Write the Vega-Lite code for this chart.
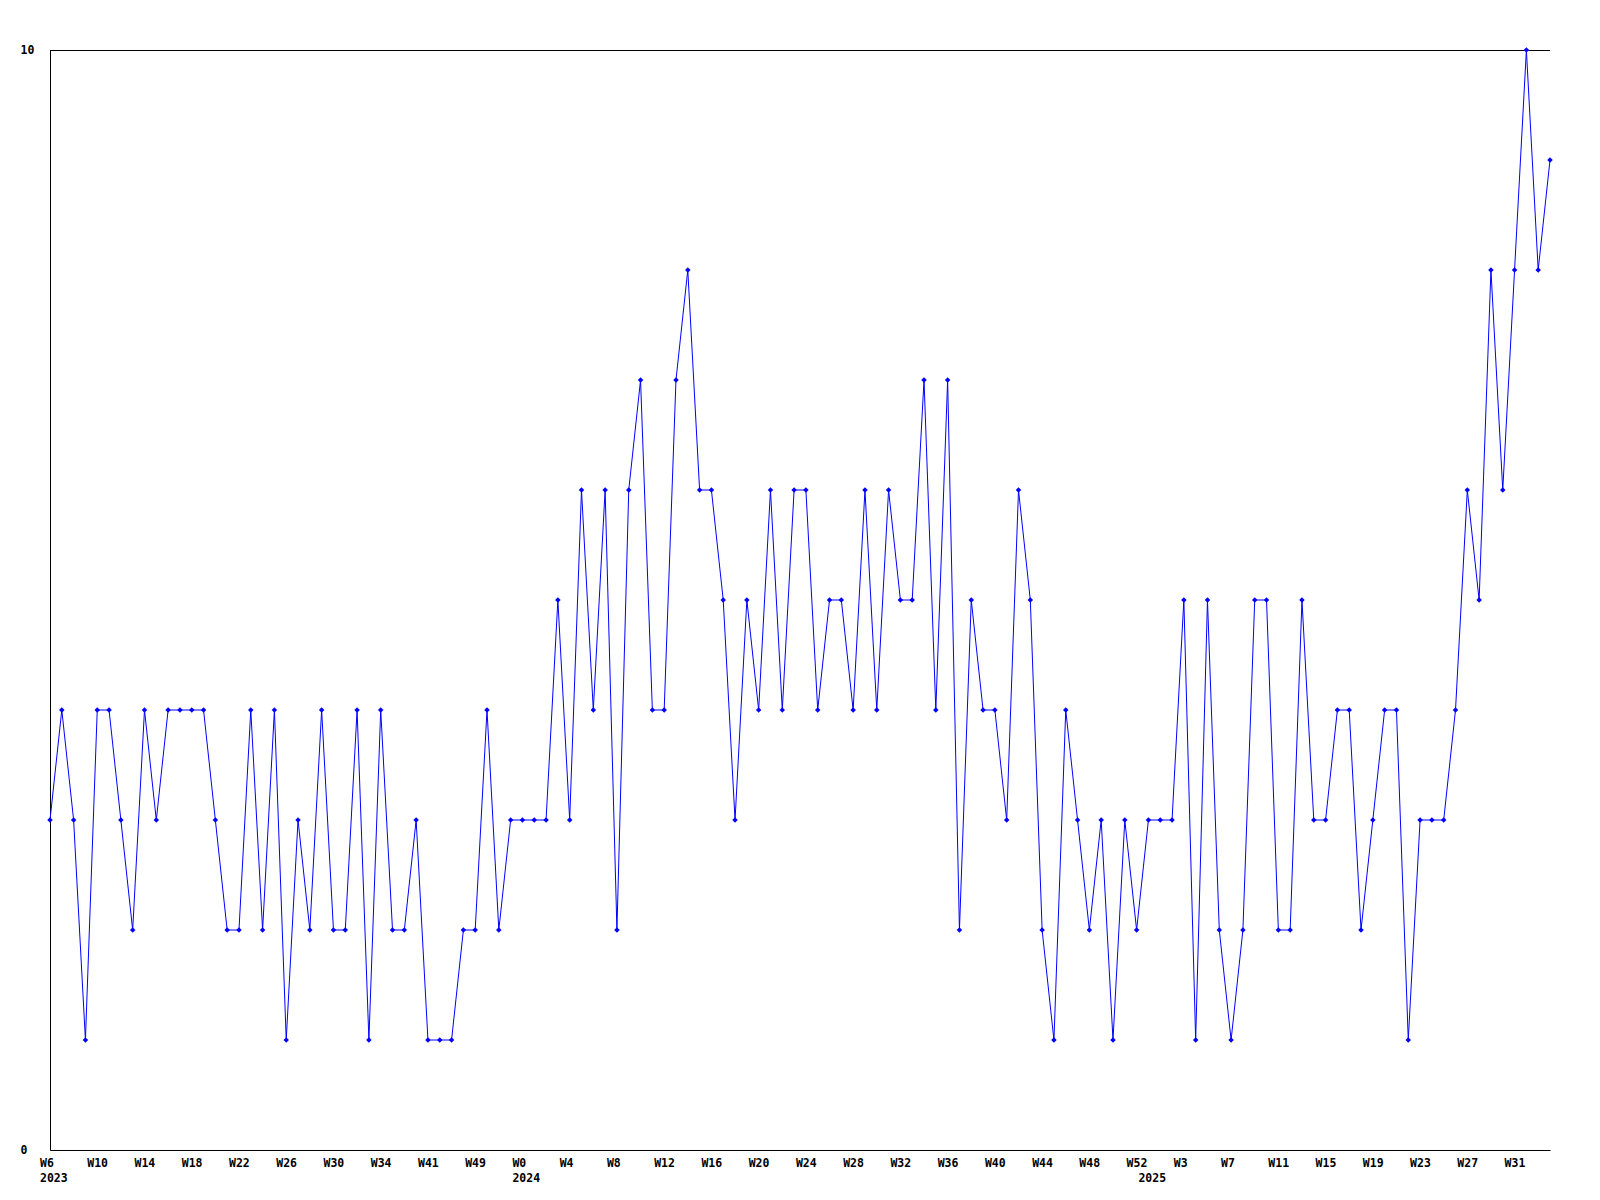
{
  "$schema": "https://vega.github.io/schema/vega-lite/v6.json",
  "autosize": {"type": "none"},
  "padding": {"left": 50, "top": 50, "right": 50, "bottom": 50},
  "width": 1500,
  "height": 1100,
  "background": "white",
  "config": {
    "view": {"stroke": null},
    "axis": {
      "labelFont": "DejaVu Sans Mono",
      "labelFontWeight": "bold",
      "labelFontSize": 11.5,
      "labelColor": "black",
      "domainColor": "black",
      "domainWidth": 1,
      "grid": false,
      "ticks": false,
      "title": null
    }
  },
  "data": {
    "values": [
      {"wk": "2023-W6", "v": 3}, {"wk": "2023-W7", "v": 4}, {"wk": "2023-W8", "v": 3}, {"wk": "2023-W9", "v": 1},
      {"wk": "2023-W10", "v": 4}, {"wk": "2023-W11", "v": 4}, {"wk": "2023-W12", "v": 3}, {"wk": "2023-W13", "v": 2},
      {"wk": "2023-W14", "v": 4}, {"wk": "2023-W15", "v": 3}, {"wk": "2023-W16", "v": 4}, {"wk": "2023-W17", "v": 4},
      {"wk": "2023-W18", "v": 4}, {"wk": "2023-W19", "v": 4}, {"wk": "2023-W20", "v": 3}, {"wk": "2023-W21", "v": 2},
      {"wk": "2023-W22", "v": 2}, {"wk": "2023-W23", "v": 4}, {"wk": "2023-W24", "v": 2}, {"wk": "2023-W25", "v": 4},
      {"wk": "2023-W26", "v": 1}, {"wk": "2023-W27", "v": 3}, {"wk": "2023-W28", "v": 2}, {"wk": "2023-W29", "v": 4},
      {"wk": "2023-W30", "v": 2}, {"wk": "2023-W31", "v": 2}, {"wk": "2023-W32", "v": 4}, {"wk": "2023-W33", "v": 1},
      {"wk": "2023-W34", "v": 4}, {"wk": "2023-W36", "v": 2}, {"wk": "2023-W38", "v": 2}, {"wk": "2023-W40", "v": 3},
      {"wk": "2023-W41", "v": 1}, {"wk": "2023-W43", "v": 1}, {"wk": "2023-W45", "v": 1}, {"wk": "2023-W47", "v": 2},
      {"wk": "2023-W49", "v": 2}, {"wk": "2023-W50", "v": 4}, {"wk": "2023-W51", "v": 2}, {"wk": "2023-W52", "v": 3},
      {"wk": "2024-W0", "v": 3}, {"wk": "2024-W1", "v": 3}, {"wk": "2024-W2", "v": 3}, {"wk": "2024-W3", "v": 5},
      {"wk": "2024-W4", "v": 3}, {"wk": "2024-W5", "v": 6}, {"wk": "2024-W6", "v": 4}, {"wk": "2024-W7", "v": 6},
      {"wk": "2024-W8", "v": 2}, {"wk": "2024-W9", "v": 6}, {"wk": "2024-W10", "v": 7}, {"wk": "2024-W11", "v": 4},
      {"wk": "2024-W12", "v": 4}, {"wk": "2024-W13", "v": 7}, {"wk": "2024-W14", "v": 8}, {"wk": "2024-W15", "v": 6},
      {"wk": "2024-W16", "v": 6}, {"wk": "2024-W17", "v": 5}, {"wk": "2024-W18", "v": 3}, {"wk": "2024-W19", "v": 5},
      {"wk": "2024-W20", "v": 4}, {"wk": "2024-W21", "v": 6}, {"wk": "2024-W22", "v": 4}, {"wk": "2024-W23", "v": 6},
      {"wk": "2024-W24", "v": 6}, {"wk": "2024-W25", "v": 4}, {"wk": "2024-W26", "v": 5}, {"wk": "2024-W27", "v": 5},
      {"wk": "2024-W28", "v": 4}, {"wk": "2024-W29", "v": 6}, {"wk": "2024-W30", "v": 4}, {"wk": "2024-W31", "v": 6},
      {"wk": "2024-W32", "v": 5}, {"wk": "2024-W33", "v": 5}, {"wk": "2024-W34", "v": 7}, {"wk": "2024-W35", "v": 4},
      {"wk": "2024-W36", "v": 7}, {"wk": "2024-W37", "v": 2}, {"wk": "2024-W38", "v": 5}, {"wk": "2024-W39", "v": 4},
      {"wk": "2024-W40", "v": 4}, {"wk": "2024-W41", "v": 3}, {"wk": "2024-W42", "v": 6}, {"wk": "2024-W43", "v": 5},
      {"wk": "2024-W44", "v": 2}, {"wk": "2024-W45", "v": 1}, {"wk": "2024-W46", "v": 4}, {"wk": "2024-W47", "v": 3},
      {"wk": "2024-W48", "v": 2}, {"wk": "2024-W49", "v": 3}, {"wk": "2024-W50", "v": 1}, {"wk": "2024-W51", "v": 3},
      {"wk": "2024-W52", "v": 2}, {"wk": "2025-W0", "v": 3}, {"wk": "2025-W1", "v": 3}, {"wk": "2025-W2", "v": 3},
      {"wk": "2025-W3", "v": 5}, {"wk": "2025-W4", "v": 1}, {"wk": "2025-W5", "v": 5}, {"wk": "2025-W6", "v": 2},
      {"wk": "2025-W7", "v": 1}, {"wk": "2025-W8", "v": 2}, {"wk": "2025-W9", "v": 5}, {"wk": "2025-W10", "v": 5},
      {"wk": "2025-W11", "v": 2}, {"wk": "2025-W12", "v": 2}, {"wk": "2025-W13", "v": 5}, {"wk": "2025-W14", "v": 3},
      {"wk": "2025-W15", "v": 3}, {"wk": "2025-W16", "v": 4}, {"wk": "2025-W17", "v": 4}, {"wk": "2025-W18", "v": 2},
      {"wk": "2025-W19", "v": 3}, {"wk": "2025-W20", "v": 4}, {"wk": "2025-W21", "v": 4}, {"wk": "2025-W22", "v": 1},
      {"wk": "2025-W23", "v": 3}, {"wk": "2025-W24", "v": 3}, {"wk": "2025-W25", "v": 3}, {"wk": "2025-W26", "v": 4},
      {"wk": "2025-W27", "v": 6}, {"wk": "2025-W28", "v": 5}, {"wk": "2025-W29", "v": 8}, {"wk": "2025-W30", "v": 6},
      {"wk": "2025-W31", "v": 8}, {"wk": "2025-W32", "v": 10}, {"wk": "2025-W33", "v": 8}, {"wk": "2025-W34", "v": 9}
    ]
  },
  "layer": [
    {
      "mark": {"type": "rule", "color": "black", "strokeWidth": 1, "yOffset": 0.5},
      "encoding": {"y": {"datum": 10, "type": "quantitative"}}
    },
    {
      "mark": {
        "type": "line",
        "color": "#0000ff",
        "strokeWidth": 1,
        "clip": false,
        "point": {"shape": "diamond", "size": 30, "filled": true, "color": "#0000ff"}
      },
      "encoding": {
        "x": {
          "field": "wk",
          "type": "ordinal",
          "sort": null,
          "scale": {"type": "point", "padding": 0},
          "axis": {
            "values": ["2023-W6", "2023-W10", "2023-W14", "2023-W18", "2023-W22", "2023-W26", "2023-W30", "2023-W34", "2023-W41", "2023-W49",
                       "2024-W0", "2024-W4", "2024-W8", "2024-W12", "2024-W16", "2024-W20", "2024-W24", "2024-W28", "2024-W32", "2024-W36", "2024-W40", "2024-W44", "2024-W48", "2024-W52",
                       "2025-W0", "2025-W3", "2025-W7", "2025-W11", "2025-W15", "2025-W19", "2025-W23", "2025-W27", "2025-W31"],
            "labelExpr": "(datum.value == '2023-W6' || datum.value == '2024-W0') ? [split(datum.value, '-')[1], split(datum.value, '-')[0]] : (datum.value == '2025-W0' ? ['', '2025'] : split(datum.value, '-')[1])",
            "labelAngle": 0,
            "labelAlign": "left",
            "labelBaseline": "top",
            "labelOffset": -10.5,
            "labelPadding": 7,
            "labelLineHeight": 15.5,
            "labelOverlap": false,
            "labelBound": false,
            "labelFlush": false
          }
        },
        "y": {
          "field": "v",
          "type": "quantitative",
          "scale": {"domain": [0, 10], "nice": false, "zero": true},
          "axis": {
            "values": [0, 10],
            "format": "d",
            "labelAlign": "left",
            "labelBaseline": "middle",
            "labelPadding": 30,
            "labelFlush": false
          }
        }
      }
    }
  ]
}
